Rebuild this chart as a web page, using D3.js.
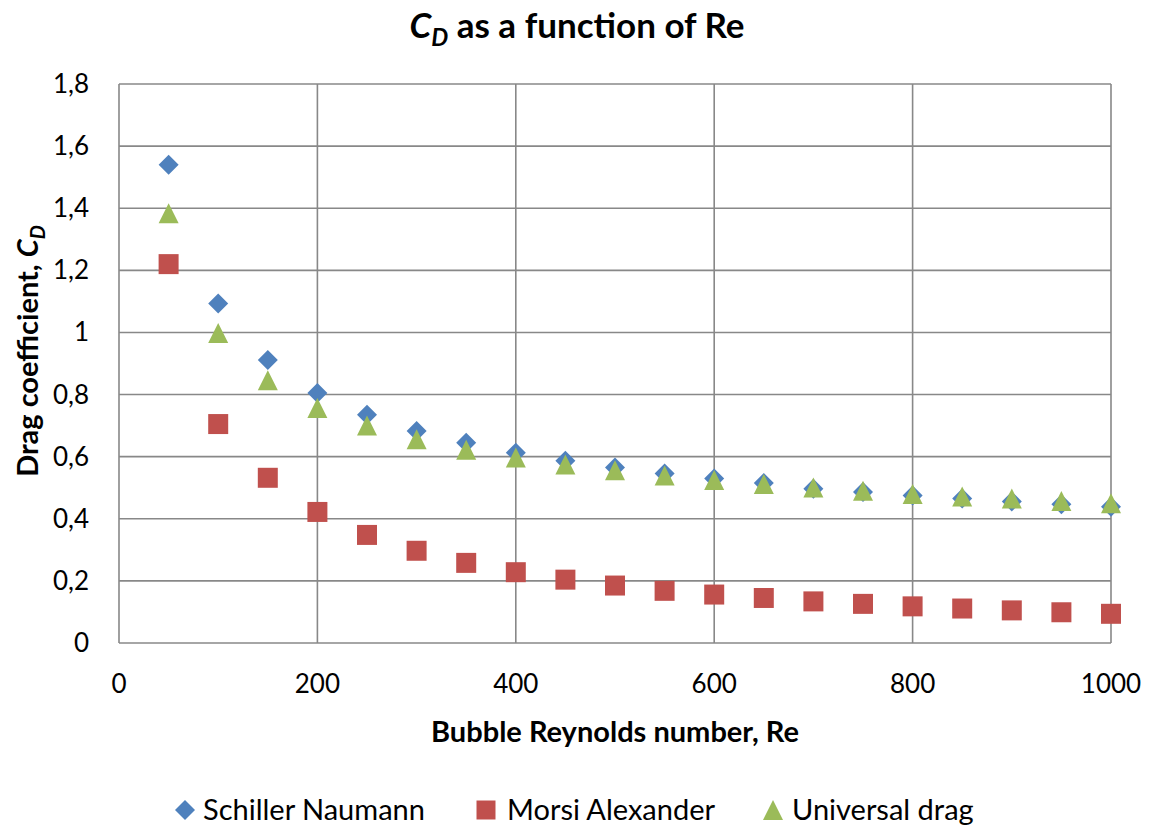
<!DOCTYPE html>
<html><head><meta charset="utf-8">
<script src="https://cdn.jsdelivr.net/npm/d3@7"></script>
<style>body{margin:0;background:#fff;} svg{display:block;font-family:Lato,"Open Sans",sans-serif;}</style>
</head><body><svg id="c" width="1151" height="825"></svg>
<script>
const reynolds = [50,100,150,200,250,300,350,400,450,500,550,600,650,700,750,800,850,900,950,1000];
const schillerNaumann = [1.54,1.093,0.911,0.805,0.735,0.683,0.645,0.613,0.587,0.565,0.546,0.530,0.515,0.497,0.486,0.475,0.465,0.456,0.447,0.439];
const morsiAlexander = [1.22,0.705,0.532,0.422,0.348,0.297,0.258,0.228,0.204,0.185,0.168,0.156,0.145,0.134,0.126,0.118,0.111,0.105,0.099,0.094];
const universalDrag = [1.384,0.998,0.846,0.757,0.700,0.656,0.622,0.597,0.575,0.556,0.539,0.525,0.512,0.501,0.490,0.480,0.472,0.465,0.457,0.450];
const xTicks = [0,200,400,600,800,1000];
const yTicks = [0,0.2,0.4,0.6,0.8,1,1.2,1.4,1.6,1.8];
const seriesNames = ["Schiller Naumann","Morsi Alexander","Universal drag"];

const svg = d3.select("#c");
const x = d3.scaleLinear().domain([0,1000]).range([119,1111]);
const y = d3.scaleLinear().domain([0,1.8]).range([643,84]);
const loc = d3.formatLocale({decimal:",",thousands:" ",grouping:[3],currency:["",""]});
const fy = v => v===0?"0":(Number.isInteger(v)?String(v):loc.format(".1f")(v));
const grid = "#888888";

// custom marker shapes (size = width in px)
const diamond = {draw(c,s){const h=s/2;c.moveTo(0,-h);c.lineTo(h,0);c.lineTo(0,h);c.lineTo(-h,0);c.closePath();}};
const square = {draw(c,s){const h=s/2;c.moveTo(-h,-h);c.lineTo(h,-h);c.lineTo(h,h);c.lineTo(-h,h);c.closePath();}};
const triangle = {draw(c,s){const h=s/2;c.moveTo(0,-h);c.lineTo(h,h);c.lineTo(-h,h);c.closePath();}};

// gridlines
svg.append("g").selectAll("line").data(yTicks).join("line")
  .attr("x1",x(0)).attr("x2",x(1000)).attr("y1",d=>y(d)).attr("y2",d=>y(d))
  .attr("stroke",grid).attr("stroke-width",1.6);
svg.append("g").selectAll("line").data(xTicks).join("line")
  .attr("y1",y(0)).attr("y2",y(1.8)).attr("x1",d=>x(d)).attr("x2",d=>x(d))
  .attr("stroke",grid).attr("stroke-width",1.6);

// tick labels
svg.append("g").selectAll("text").data(yTicks).join("text")
  .attr("x",89).attr("y",d=>y(d)+9).attr("text-anchor","end")
  .attr("font-size",26).attr("fill","#000").text(fy);
svg.append("g").selectAll("text").data(xTicks).join("text")
  .attr("x",d=>x(d)).attr("y",693).attr("text-anchor","middle")
  .attr("font-size",26).attr("fill","#000").text(d=>String(d));

// title
const t = svg.append("text").attr("x",577).attr("y",38).attr("text-anchor","middle")
  .attr("font-size",35).attr("font-weight","bold");
t.append("tspan").attr("font-style","italic").text("C");
t.append("tspan").attr("font-style","italic").attr("font-size",24).attr("dy",8).text("D");
t.append("tspan").attr("dy",-8).text(" as a function of Re");

// axis titles
svg.append("text").attr("x",615).attr("y",742).attr("text-anchor","middle")
  .attr("font-size",29).attr("font-weight","bold").text("Bubble Reynolds number, Re");
const yl = svg.append("text").attr("transform","translate(38,351) rotate(-90)")
  .attr("text-anchor","middle").attr("font-size",29).attr("font-weight","bold");
yl.append("tspan").text("Drag coefficient, ");
yl.append("tspan").attr("font-style","italic").text("C");
yl.append("tspan").attr("font-style","italic").attr("font-size",20).attr("dy",7).text("D");

const colors = ["#4F81BD","#C0504D","#9BBB59"];
const symbols = [diamond, square, triangle];
const data = [schillerNaumann, morsiAlexander, universalDrag];

[0,1,2].forEach(i=>{
  svg.append("g").selectAll("path").data(reynolds.map((r,j)=>[r,data[i][j]])).join("path")
    .attr("transform",d=>`translate(${x(d[0])},${y(d[1])})`)
    .attr("d",d3.symbol().type(symbols[i]).size(20))
    .attr("fill",colors[i]);
});

// legend
const legX = [185,486,773];
const legT = [203,507,792];
const leg = svg.append("g");
seriesNames.forEach((n,i)=>{
  leg.append("path").attr("transform",`translate(${legX[i]},810)`)
    .attr("d",d3.symbol().type(symbols[i]).size(i===1?19:20)).attr("fill",colors[i]);
  leg.append("text").attr("x",legT[i]).attr("y",820)
    .attr("font-size",29).text(n);
});
</script></body></html>
